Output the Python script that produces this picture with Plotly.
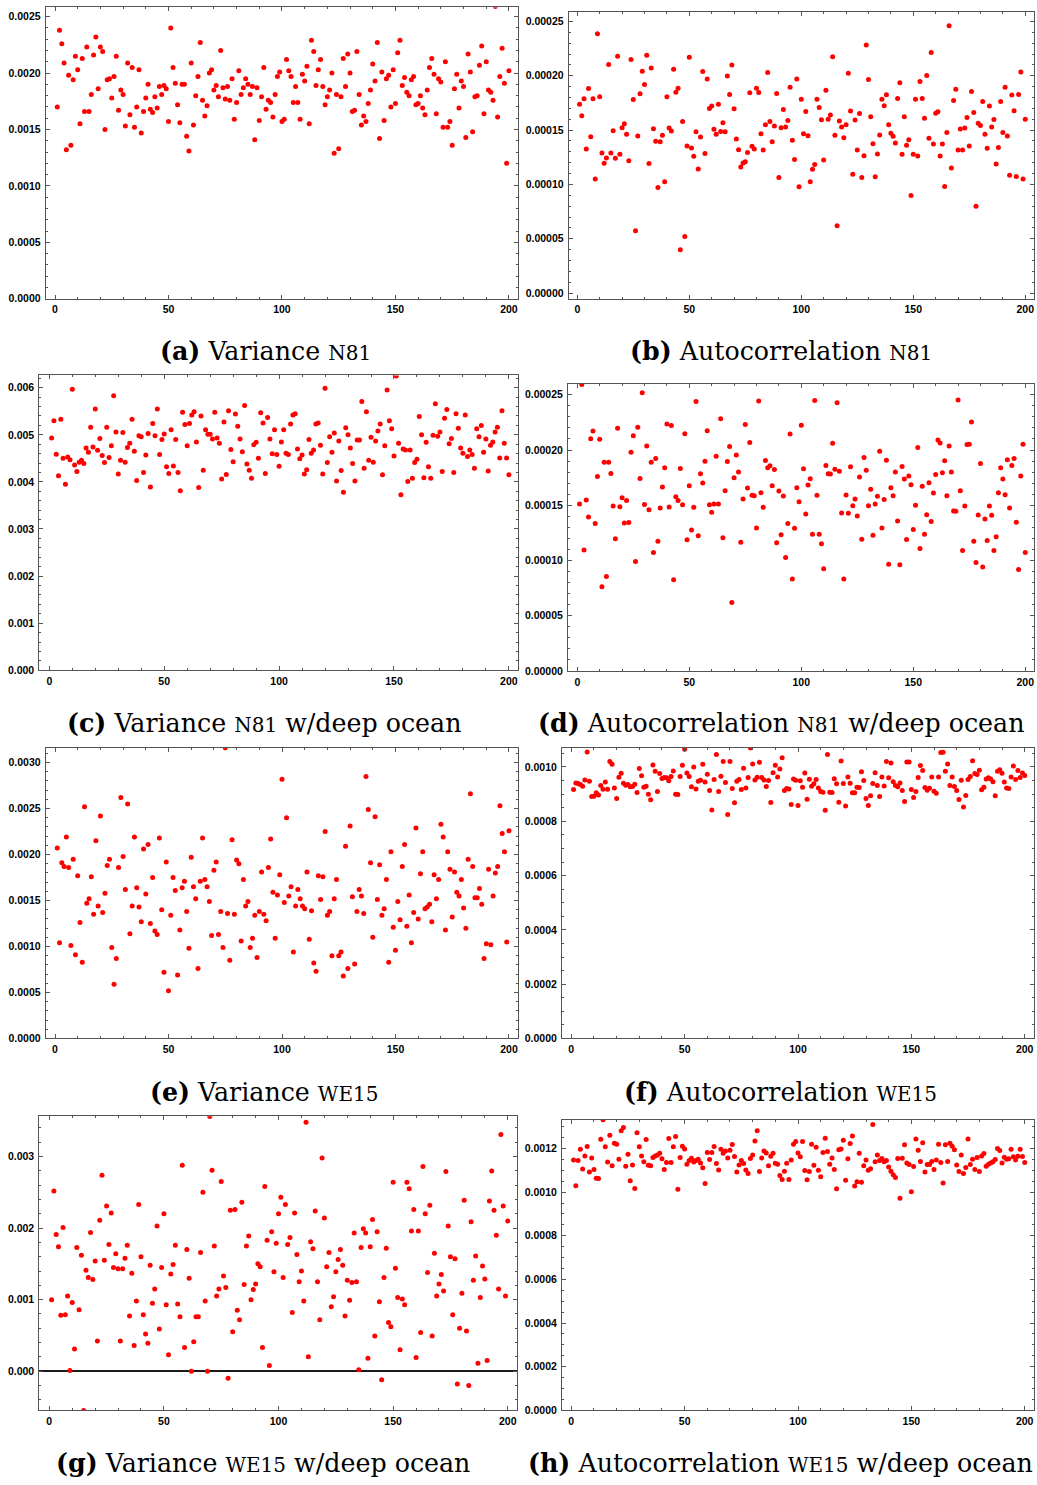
import plotly.graph_objects as go

W, H = 1037, 1485
steps = list(range(1, 201))

# (a) Variance N81, units 1e-3
var_n81 = [
1.70,2.38,2.26,2.09,1.32,1.98,1.36,1.94,2.15,2.03,
1.55,2.13,1.66,2.23,1.66,1.81,2.16,2.32,1.86,2.23,
2.19,1.50,1.94,1.95,1.78,1.97,2.15,1.67,1.85,1.81,
1.53,2.09,1.63,2.05,1.52,1.70,2.03,1.47,1.66,1.78,
1.90,1.68,1.65,1.79,1.69,1.88,1.81,1.89,1.86,1.57,
2.40,2.05,1.91,1.72,1.56,1.90,1.90,1.44,1.31,2.09,
1.54,1.80,1.97,2.27,1.76,1.62,1.71,2.00,2.03,1.85,
1.89,1.79,2.20,1.87,1.77,1.88,1.76,1.95,1.59,1.74,
2.02,1.81,1.87,1.95,1.90,1.81,1.88,1.41,1.87,1.58,
1.79,2.05,1.68,1.76,1.74,1.61,1.81,1.97,2.01,1.57,
1.59,2.12,2.02,1.97,1.74,1.88,1.74,1.59,1.99,1.93,
2.06,1.55,2.29,2.19,1.89,2.03,2.12,1.88,1.72,1.79,
1.85,2.00,1.29,1.81,1.33,1.79,2.13,1.88,2.17,2.00,
1.66,1.67,2.19,1.81,1.54,1.62,1.57,1.73,1.85,2.08,
1.93,2.27,1.42,2.01,1.58,1.95,1.98,1.70,2.03,1.73,
2.18,2.29,1.89,1.96,1.83,1.80,1.94,1.97,1.72,1.73,
1.80,1.69,1.63,1.85,2.05,2.13,1.99,1.64,1.95,1.92,
1.52,2.10,1.52,1.57,1.36,1.86,1.99,1.69,1.93,1.88,
1.43,2.17,2.01,1.48,1.79,1.80,2.07,2.24,1.64,2.10,
1.85,1.83,1.76,2.59,1.61,1.97,2.22,1.91,1.20,2.02]

# (b) Autocorrelation N81, units 1e-5
ac_n81 = [
17.39,16.32,17.88,13.26,18.83,14.39,17.88,10.51,23.87,18.06,
12.90,11.95,12.44,21.03,12.90,14.94,12.41,21.79,12.78,15.22,
15.59,14.61,12.19,21.49,17.82,5.75,14.46,18.34,20.42,19.19,
21.88,11.92,20.72,15.13,13.97,9.72,13.94,14.52,10.24,18.06,
15.19,14.91,20.60,18.49,18.86,4.00,15.80,5.20,13.54,21.70,
13.36,12.59,14.85,11.43,14.36,20.39,12.84,19.71,16.99,17.21,
15.07,14.61,17.39,14.88,15.68,14.85,19.99,18.28,21.00,16.96,
14.18,13.20,11.61,11.98,12.10,12.93,18.43,13.51,13.26,18.86,
18.46,14.67,13.17,15.50,20.29,15.80,13.94,15.37,18.37,10.64,
15.22,16.90,15.28,15.89,18.95,14.06,12.29,19.71,9.78,17.85,
14.67,16.72,14.49,10.24,11.40,11.83,17.85,17.08,15.95,12.26,
18.67,16.01,16.38,21.76,14.52,6.20,15.83,15.28,14.30,15.50,
20.23,16.75,10.94,15.92,13.17,16.53,10.64,12.65,22.83,19.65,
16.23,13.75,10.70,12.81,14.55,17.85,17.24,18.25,15.50,14.70,
14.43,13.81,17.91,19.35,12.78,16.23,13.60,14.12,8.99,12.78,
17.85,12.62,19.47,17.91,16.08,20.02,14.24,22.13,13.72,16.56,
16.69,12.62,13.72,9.81,14.79,24.60,11.52,17.73,18.77,13.17,
15.10,13.17,15.19,16.17,13.54,18.55,16.63,8.00,15.62,15.43,
17.63,14.61,13.33,17.21,15.28,15.98,11.89,13.39,17.63,14.79,
18.95,14.46,10.85,18.22,16.78,10.73,18.28,20.35,10.51,16.01]

# (c) Variance N81 w/deep ocean, units 1e-3
var_n81_deep = [
4.93,5.30,4.59,4.13,5.33,4.50,3.95,4.53,4.47,5.97,
4.36,4.22,4.42,4.46,4.39,4.72,4.63,5.16,4.74,5.55,
4.67,4.92,4.56,4.41,5.16,4.52,4.77,5.83,5.06,4.17,
4.46,5.05,4.42,4.73,4.82,5.33,4.65,4.03,4.98,4.96,
4.20,4.57,5.03,3.89,5.24,4.98,5.55,4.58,4.90,5.02,
4.32,4.18,5.11,4.34,4.90,4.20,3.81,5.48,5.22,4.77,
5.24,5.42,5.49,4.85,3.88,5.40,4.25,5.11,5.01,5.01,
4.91,5.48,4.93,4.82,4.06,5.27,4.16,5.51,4.69,4.43,
5.44,5.18,4.91,4.64,5.62,4.38,4.25,4.08,4.79,4.84,
4.50,5.47,5.25,4.18,5.37,4.91,4.60,5.11,4.58,4.33,
4.85,5.11,4.61,4.58,5.23,5.42,5.45,4.70,4.49,4.57,
4.17,4.26,4.90,4.61,4.68,5.23,5.25,4.78,4.17,5.99,
4.41,4.96,4.63,5.04,4.02,4.87,4.24,3.78,5.15,5.00,
4.72,4.39,4.02,4.89,4.89,5.71,4.29,5.49,4.46,4.95,
4.42,4.87,5.08,5.23,4.15,4.77,5.95,5.30,5.13,4.55,
6.25,4.82,3.73,4.70,4.68,4.01,4.68,4.08,4.41,4.48,
5.39,5.00,4.09,4.84,4.32,4.08,4.99,5.66,4.97,5.06,
4.22,5.35,5.54,4.81,4.92,4.20,5.45,5.14,4.72,4.61,
5.42,4.54,4.68,4.58,4.29,5.13,4.96,5.20,4.63,4.91,
4.23,4.78,4.85,5.06,5.16,4.51,5.51,4.82,4.51,4.15]

# (d) Autocorrelation N81 w/deep ocean, units 1e-5
ac_n81_deep = [
15.11,25.93,10.94,15.47,13.94,21.03,21.72,13.34,17.61,20.97,
7.63,18.90,8.56,18.90,17.88,14.93,11.96,21.97,14.87,15.69,
13.40,15.44,13.43,19.80,21.30,9.92,22.06,17.43,25.18,15.08,
20.37,14.60,18.90,10.73,19.23,11.75,14.75,16.65,18.39,22.36,
14.84,22.21,8.26,15.78,15.44,18.33,15.05,21.48,11.87,16.77,
12.77,14.81,24.40,12.23,17.85,17.01,18.99,21.75,15.05,14.36,
15.11,19.44,15.11,22.84,12.05,16.32,18.96,20.31,6.19,17.49,
19.56,18.00,11.66,15.56,22.30,16.56,20.67,15.90,15.87,12.95,
24.43,16.14,14.81,19.05,18.39,18.57,16.77,18.24,11.60,16.29,
12.32,15.84,10.28,13.34,21.45,8.32,12.92,16.59,15.32,22.24,
18.30,14.21,16.83,17.40,12.38,24.49,15.90,12.38,11.51,9.25,
18.60,17.85,17.82,20.61,18.27,24.28,18.09,14.30,8.32,15.93,
14.27,18.48,14.96,15.56,14.03,17.55,11.93,19.32,18.18,14.96,
16.44,12.29,15.11,15.81,19.89,12.95,15.53,19.08,9.65,16.59,
15.87,18.00,13.58,9.62,18.51,17.37,11.90,17.64,16.86,12.80,
14.99,20.22,11.09,16.71,12.38,14.15,17.04,13.52,16.11,17.79,
20.91,20.64,17.94,19.02,15.87,20.37,18.00,14.48,14.45,24.52,
16.32,10.91,14.93,20.49,20.52,22.54,11.75,9.83,14.12,18.78,
9.41,13.76,11.81,14.93,14.09,10.91,12.14,16.14,18.39,17.37,
15.96,19.11,14.75,18.60,19.23,13.46,9.19,17.64,20.52,10.73]

# (e) Variance WE15, units 1e-3
var_we15 = [
2.07,1.04,1.91,1.87,2.19,1.86,1.01,1.95,0.91,1.77,
1.26,0.83,2.52,1.47,1.52,1.76,1.35,2.15,1.44,2.42,
1.37,1.58,1.88,1.95,0.99,0.59,0.87,1.86,2.62,1.98,
1.62,2.55,1.14,1.44,2.19,1.64,1.43,1.27,2.06,1.57,
2.11,1.25,1.75,1.17,1.13,2.18,1.40,0.72,1.92,0.52,
1.34,1.75,1.61,0.69,1.18,1.64,1.71,1.38,0.98,1.97,
1.65,1.52,0.76,1.71,2.18,1.73,1.65,1.49,1.12,1.83,
1.92,1.13,1.38,0.99,3.16,1.36,0.85,2.16,1.35,1.94,
1.90,1.06,1.73,1.44,1.49,0.99,1.09,1.34,0.88,1.38,
1.81,1.35,1.28,1.86,2.17,1.59,1.09,1.56,1.78,2.82,
1.48,2.40,1.55,1.65,0.94,1.44,1.62,1.52,1.44,1.41,
1.81,1.08,1.39,0.82,0.73,1.77,1.51,1.76,2.25,1.34,
1.38,0.90,1.52,1.73,0.90,0.94,0.68,2.09,0.76,2.31,
1.54,0.81,1.38,1.62,1.55,1.36,2.85,2.49,1.91,1.10,
2.41,1.51,1.89,1.34,1.41,1.73,0.83,2.03,1.21,0.96,
1.49,1.29,1.87,2.11,1.22,1.56,1.04,1.37,2.29,1.30,
1.79,2.03,1.41,1.43,1.46,1.27,1.78,1.52,1.73,2.33,
2.19,1.18,2.03,1.84,1.32,1.81,1.59,1.55,1.73,1.42,
1.20,1.95,2.66,1.87,1.53,1.53,1.63,1.46,0.87,1.03,
1.84,1.02,1.55,1.80,1.87,2.53,2.23,2.03,1.05,2.26]

# (f) Autocorrelation WE15, units 1e-4
ac_we15 = [
9.17,9.41,9.39,9.35,9.29,9.52,10.55,9.47,8.91,8.92,
9.05,8.97,9.32,9.18,9.45,9.18,10.20,10.10,9.23,8.84,
9.62,9.77,9.40,9.33,9.35,9.27,9.28,9.36,9.06,9.94,
9.68,9.25,9.29,9.00,8.79,10.07,9.84,9.10,9.76,9.58,
9.61,9.60,9.49,9.65,9.85,9.00,8.99,9.65,10.06,10.65,
9.78,9.65,9.27,10.00,9.19,9.47,9.51,10.10,9.45,9.73,
9.13,8.42,9.54,10.46,9.10,9.66,10.20,9.43,8.25,10.20,
9.21,8.68,9.47,9.54,9.17,9.95,9.23,9.61,10.70,10.11,
9.52,9.62,10.17,9.61,9.52,9.28,9.50,8.69,9.79,10.06,
9.63,9.93,10.34,9.13,9.21,9.19,8.62,9.56,9.51,8.58,
9.49,9.25,9.78,8.81,9.55,9.29,9.38,9.54,9.23,9.10,
9.07,8.41,10.46,9.07,9.06,9.57,9.38,8.70,10.22,9.39,
8.56,9.63,9.40,9.05,9.05,9.25,9.24,9.82,9.50,8.84,
8.58,8.94,9.39,9.79,9.32,8.91,9.63,9.30,10.20,9.60,
10.15,9.46,9.32,9.27,9.41,9.13,8.73,10.18,10.18,9.17,
8.88,9.10,9.61,10.05,9.87,9.24,9.14,9.22,9.63,9.11,
9.03,9.63,10.53,10.54,9.84,10.11,9.32,9.63,9.28,9.13,
8.80,9.51,8.53,8.95,9.54,9.65,10.23,9.76,9.72,9.88,
9.16,9.25,9.56,9.60,9.56,9.46,8.94,9.84,9.90,9.77,
9.45,9.23,9.21,9.63,10.04,9.54,9.87,9.61,9.78,9.69]

# (g) Variance WE15 w/deep ocean, units 1e-3
var_we15_deep = [
1.00,2.52,1.91,1.74,0.78,2.01,0.79,1.05,0.01,0.96,
0.31,1.73,0.86,1.62,-0.55,1.41,1.31,1.94,1.28,1.54,
0.42,2.11,2.74,1.55,2.31,1.77,2.21,1.45,1.64,1.43,
0.42,1.43,1.58,1.76,0.77,1.37,0.36,0.98,2.33,1.60,
0.79,0.52,0.39,1.48,0.95,1.15,2.03,0.59,1.45,2.20,
0.93,0.23,1.36,1.49,1.76,0.94,0.76,2.88,0.33,1.70,
1.30,0.00,0.41,0.76,0.76,1.66,2.50,0.98,0.00,3.56,
2.81,1.75,1.05,1.15,2.65,1.33,1.17,-0.10,2.25,0.55,
2.26,0.85,0.72,2.36,1.21,1.75,1.89,1.00,1.14,1.22,
1.50,1.46,0.33,2.58,1.83,0.08,1.95,1.39,1.79,2.20,
2.43,1.31,2.33,1.77,1.87,0.82,2.21,1.63,1.25,1.40,
0.98,3.48,0.20,1.81,1.71,2.24,1.25,0.72,2.98,2.14,
1.46,1.66,0.90,1.04,1.39,1.56,1.70,1.48,0.77,1.27,
0.99,1.24,1.93,1.25,0.02,1.73,1.99,1.93,0.18,1.74,
2.12,0.49,1.95,0.97,-0.12,1.31,1.72,0.68,0.62,2.64,
1.44,1.03,0.30,1.01,0.93,2.64,2.55,1.96,2.26,0.19,
1.96,0.54,2.86,2.20,1.38,2.32,0.49,1.65,1.05,1.22,
1.35,1.12,2.79,2.03,1.60,0.79,1.57,-0.18,0.60,1.09,
2.39,0.56,-0.20,2.09,1.27,1.61,0.11,1.03,1.47,1.29,
0.15,2.38,2.80,2.25,1.90,1.15,3.31,2.31,1.05,2.10]

# (h) Autocorrelation WE15 w/deep ocean, units 1e-4
ac_we15_deep = [
11.47,10.29,11.45,11.97,11.06,11.66,12.09,10.93,11.57,11.04,
10.64,10.63,12.43,13.32,12.08,11.38,12.61,11.21,12.24,12.20,
11.51,12.82,12.97,11.19,11.74,10.52,11.25,10.17,12.73,12.08,
11.66,11.39,12.41,11.24,11.21,11.59,11.66,11.71,11.79,11.53,
11.04,11.36,12.46,11.36,12.08,12.55,10.13,11.59,12.11,11.98,
11.28,11.45,11.56,11.38,11.45,11.51,11.34,11.12,10.40,11.82,
11.50,11.82,12.09,11.31,11.02,11.97,11.79,11.89,11.57,11.92,
12.18,11.63,10.93,11.25,11.45,11.31,11.02,10.86,11.54,11.71,
12.35,12.82,10.95,11.57,11.89,11.80,11.21,11.65,11.79,11.33,
11.28,10.77,10.58,10.96,11.33,10.58,11.48,12.20,12.32,11.80,
11.62,12.32,10.99,10.57,10.95,12.20,11.24,12.06,11.01,10.71,
11.82,12.47,11.86,11.28,11.57,11.04,10.16,11.94,11.98,12.38,
10.55,11.53,12.23,12.58,10.28,10.48,11.79,10.46,11.21,11.47,
11.01,11.07,13.10,11.39,11.71,11.45,11.54,11.39,11.45,11.15,
10.96,10.80,10.67,11.54,9.72,11.56,12.17,11.34,11.27,10.02,
11.18,12.44,11.92,11.41,12.27,10.93,11.27,11.27,11.41,11.04,
11.47,12.20,11.36,10.42,12.17,11.41,12.24,12.11,11.95,11.25,
10.95,11.71,10.86,11.13,12.44,11.27,11.51,11.04,11.59,10.95,
11.66,11.77,11.19,11.28,11.34,11.39,11.50,12.00,11.91,11.34,
11.60,11.51,11.53,11.97,11.62,11.48,11.65,11.97,11.63,11.36]

captions = [
    "<b>(a)</b> Variance <span style='font-size:20px'>N81</span>",
    "<b>(b)</b> Autocorrelation <span style='font-size:20px'>N81</span>",
    "<b>(c)</b> Variance <span style='font-size:20px'>N81</span> w/deep ocean",
    "<b>(d)</b> Autocorrelation <span style='font-size:20px'>N81</span> w/deep ocean",
    "<b>(e)</b> Variance <span style='font-size:20px'>WE15</span>",
    "<b>(f)</b> Autocorrelation <span style='font-size:20px'>WE15</span>",
    "<b>(g)</b> Variance <span style='font-size:20px'>WE15</span> w/deep ocean",
    "<b>(h)</b> Autocorrelation <span style='font-size:20px'>WE15</span> w/deep ocean",
]

series = [
    (var_n81, 1e-3), (ac_n81, 1e-5), (var_n81_deep, 1e-3), (ac_n81_deep, 1e-5),
    (var_we15, 1e-3), (ac_we15, 1e-4), (var_we15_deep, 1e-3), (ac_we15_deep, 1e-4),
]

# panel frames in pixels: left, right, top, bottom
frames = [
    (45.7, 518, 7.3, 300), (568.7, 1034, 11.7, 300),
    (39.3, 518.3, 377, 673), (568, 1034, 385.3, 673.7),
    (45.7, 518.3, 751, 1042.7), (562, 1034, 751, 1042.7),
    (39.3, 516.7, 1120.7, 1416), (562, 1034, 1124.3, 1416),
]
xranges = [(-4.1, 204.0), (-3.84, 203.9), (-4.36, 204.1), (-4.15, 203.9),
           (-4.1, 204.1), (-4.1, 204.1), (-4.36, 203.9), (-4.1, 204.1)]
yranges = [(0, 0.002583), (-0.0000052, 0.000259), (0, 0.00626), (0, 0.00026),
           (0, 0.003159), (0, 0.00107), (-0.000547, 0.003565), (0, 0.001332)]
ydticks = [(0.0005, 0.0001, ".4f"), (0.00005, 0.00001, ".5f"), (0.001, 0.0002, ".3f"),
           (0.00005, 0.00001, ".5f"), (0.0005, 0.0001, ".4f"), (0.0002, 0.00005, ".4f"),
           (0.001, 0.0002, ".3f"), (0.0002, 0.00005, ".4f")]
cap_pos = [(265, 352), (781, 352), (264, 726), (781, 726),
           (264, 1096), (780, 1096), (263, 1469), (780, 1469)]

fig = go.Figure()
tickfont = dict(family="Liberation Sans, Arial, sans-serif", size=10.5, color="black", weight="bold")
framecol = "#555555"

layout = dict(width=W, height=H, margin=dict(l=0, r=0, t=0, b=0),
              paper_bgcolor="white", plot_bgcolor="white", showlegend=False)
annotations = []
for i in range(8):
    vals, unit = series[i]
    n = i + 1
    xa = "x" if n == 1 else f"x{n}"
    ya = "y" if n == 1 else f"y{n}"
    fig.add_trace(go.Scatter(
        x=steps, y=[v * unit for v in vals], mode="markers",
        marker=dict(color="#ff0000", size=5, line=dict(width=0)),
        xaxis=xa, yaxis=ya, hoverinfo="skip"))
    l, r, t, b = frames[i]
    xd = [l / W, r / W]
    yd = [1 - b / H, 1 - t / H]
    dt, mdt, fmt = ydticks[i]
    layout["xaxis" if n == 1 else f"xaxis{n}"] = dict(
        domain=xd, anchor=ya, range=list(xranges[i]), tickmode="linear", tick0=0, dtick=50,
        ticks="inside", ticklen=4, tickwidth=1, tickcolor=framecol,
        minor=dict(ticks="inside", ticklen=2, dtick=10, tick0=0, tickcolor=framecol, showgrid=False),
        showline=True, linecolor=framecol, linewidth=1, mirror="allticks",
        showgrid=False, zeroline=False, tickfont=tickfont, ticklabelstandoff=1)
    layout["yaxis" if n == 1 else f"yaxis{n}"] = dict(
        domain=yd, anchor=xa, range=list(yranges[i]), tickmode="linear", tick0=0, dtick=dt,
        tickformat=fmt,
        ticks="inside", ticklen=4, tickwidth=1, tickcolor=framecol,
        minor=dict(ticks="inside", ticklen=2, dtick=mdt, tick0=0, tickcolor=framecol, showgrid=False),
        showline=True, linecolor=framecol, linewidth=1, mirror="allticks",
        showgrid=False, zeroline=(i == 6), zerolinecolor="#1a1a1a", zerolinewidth=1.6,
        tickfont=tickfont, ticklabelstandoff=2)
    cx, cy = cap_pos[i]
    annotations.append(dict(
        text=captions[i], x=cx / W, y=1 - cy / H, xref="paper", yref="paper",
        xanchor="center", yanchor="middle", showarrow=False,
        font=dict(family="DejaVu Serif, serif", size=25.3, color="black")))

layout["annotations"] = annotations
fig.update_layout(**layout)
fig.write_html("out.html")
